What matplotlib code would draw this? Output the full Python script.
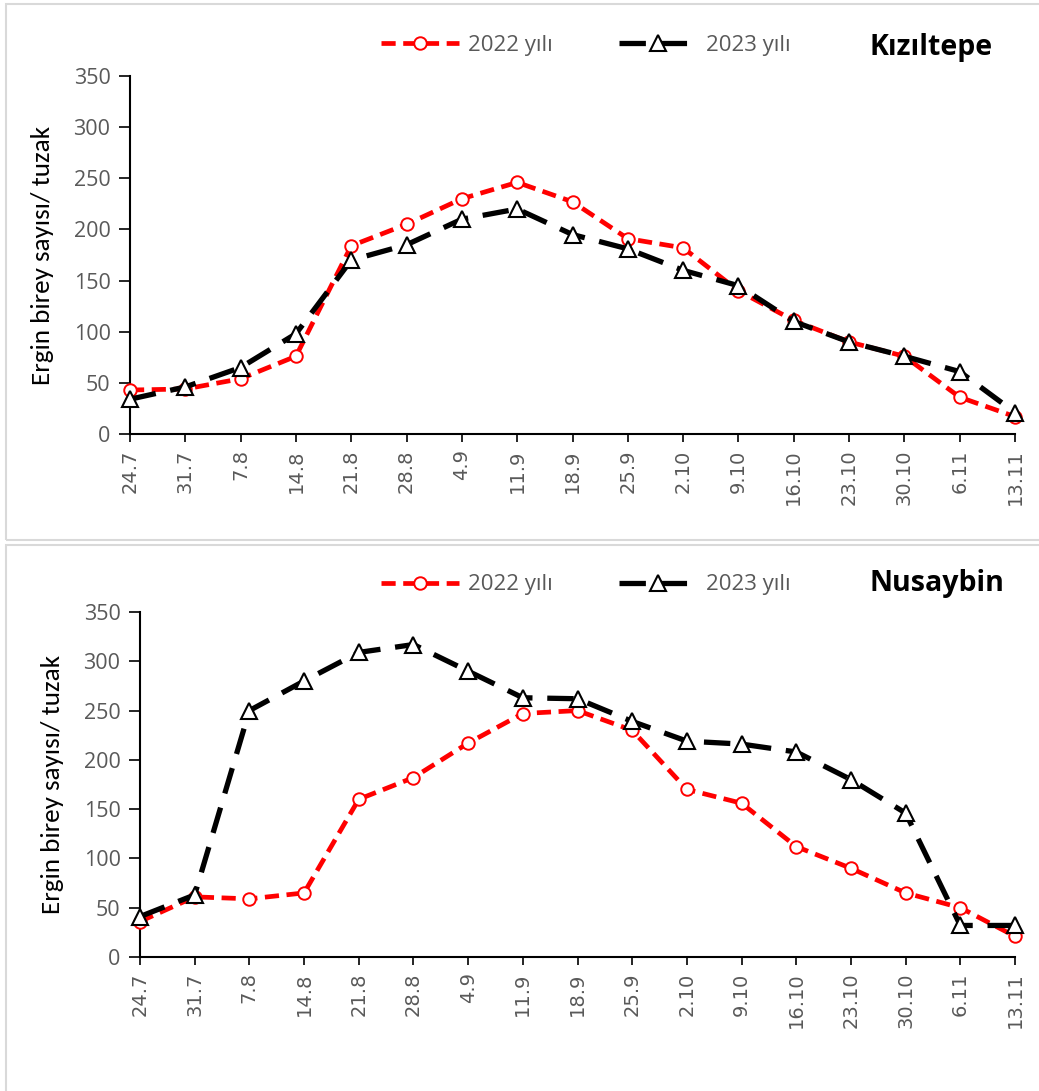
import matplotlib
matplotlib.use("Agg")
import matplotlib.pyplot as plt
from matplotlib.patches import Rectangle

# Tarihler (x ekseni)
dates = ["24.7", "31.7", "7.8", "14.8", "21.8", "28.8", "4.9", "11.9", "18.9",
         "25.9", "2.10", "9.10", "16.10", "23.10", "30.10", "6.11", "13.11"]

# Kızıltepe
kiz_2022 = [43, 44, 54, 76, 184, 205, 230, 246, 227, 191, 182, 140, 111, 90, 76, 36, 17]
kiz_2023 = [34, 46, 65, 98, 170, 185, 210, 220, 195, 181, 160, 145, 110, 90, 76, 61, 21]

# Nusaybin
nus_2022 = [36, 61, 59, 65, 160, 182, 217, 247, 250, 230, 170, 156, 112, 90, 65, 50, 21]
nus_2023 = [41, 63, 250, 280, 309, 317, 290, 263, 262, 239, 219, 216, 208, 180, 146, 32, 32]

W, H = 1039, 1091
GRAY = "#595959"
plt.rcParams["font.family"] = ["Open Sans", "DejaVu Sans"]

fig = plt.figure(figsize=(W / 100, H / 100), dpi=100)

# panel cerceveleri
for (x0, y0, x1, y1) in [(6, 4, 1045, 540), (6, 545, 1045, 1095)]:
    fig.patches.append(Rectangle((x0 / W, 1 - y1 / H), (x1 - x0) / W, (y1 - y0) / H,
                                 transform=fig.transFigure, fill=False,
                                 edgecolor="#d9d9d9", linewidth=1.5))


def panel(rect, y22, y23, title, leg_y, title_y):
    ax = fig.add_axes(rect)
    x = list(range(len(dates)))
    l1, = ax.plot(x, y22, color="#ff0000", linestyle=(0, (3, 1.6)), linewidth=3.4,
                  marker="o", markersize=9, markerfacecolor="white",
                  markeredgecolor="#ff0000", markeredgewidth=1.4, label="2022 yılı",
                  clip_on=False, zorder=3)
    l2, = ax.plot(x, y23, color="black", linestyle=(0, (5, 2.8)), linewidth=3.8,
                  marker="^", markersize=12, markerfacecolor="white",
                  markeredgecolor="black", markeredgewidth=1.5, label="2023 yılı",
                  clip_on=False, zorder=3)
    ax.set_xlim(0, len(dates) - 1)
    ax.set_ylim(0, 350)
    ax.set_yticks(range(0, 351, 50))
    ax.set_xticks(x)
    ax.set_xticklabels(dates, rotation=90, fontsize=14, color=GRAY,
                       family=["Liberation Sans Narrow", "DejaVu Sans"])
    ax.tick_params(axis="y", labelsize=15.5, labelcolor=GRAY, length=8, width=1.2,
                   direction="out", pad=6)
    ax.tick_params(axis="x", length=6, width=1.2, direction="out", pad=5)
    for s in ["top", "right"]:
        ax.spines[s].set_visible(False)
    for s in ["left", "bottom"]:
        ax.spines[s].set_linewidth(1.5)
    ax.set_ylabel("Ergin birey sayısı/ tuzak", fontsize=19.5,
                  family=["Carlito", "Open Sans", "DejaVu Sans"], labelpad=14)
    ax.legend(handles=[l1, l2], loc="center left", ncol=2, frameon=False,
              bbox_to_anchor=(361 / W, 1 - leg_y / H), bbox_transform=fig.transFigure,
              fontsize=16, labelcolor=GRAY, handlelength=3.5, columnspacing=3.0,
              handletextpad=0.4)
    fig.text(870 / W, 1 - title_y / H, title, fontsize=20.5, fontweight="bold",
             ha="left", va="center")
    return ax


panel([130 / W, 1 - 434 / H, 885 / W, 358 / H], kiz_2022, kiz_2023, "Kızıltepe", 45, 48)
panel([140 / W, 1 - 957 / H, 875 / W, 345 / H], nus_2022, nus_2023, "Nusaybin", 585, 584)

fig.savefig("out.png", dpi=100)
